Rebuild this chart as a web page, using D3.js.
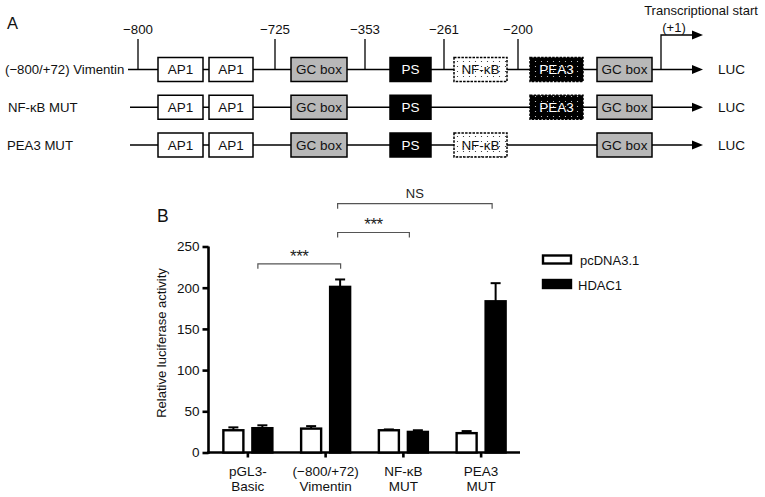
<!DOCTYPE html>
<html><head><meta charset="utf-8">
<script src="https://cdn.jsdelivr.net/npm/d3@7"></script>
<style>body{margin:0;background:#fff}svg{display:block}text{font-family:"Liberation Sans",Arial,sans-serif;fill:#111}</style>
</head><body><svg id="c" width="765" height="497"></svg>
<script>
// ---------- Panel A data (schematic) ----------
const constructs = ["(\u2212800/+72) Vimentin", "NF-\u03baB MUT", "PEA3 MUT"];
const elementNames = ["AP1", "AP1", "GC box", "PS", "NF-\u03baB", "PEA3", "GC box"];
const elementKinds = ["ap1", "ap1", "gc", "ps", "nfkb", "pea3", "gc"];
const elementStart = [30, 81, 163, 262, 326, 402, 469];
const elementEnd = [75, 125, 219, 303, 379, 455, 524];
const elementPresent = [
  [1, 1, 1, 1, 1, 1, 1],
  [1, 1, 1, 1, 0, 1, 1],
  [1, 1, 1, 1, 1, 0, 1]
];
const siteLabels = ["\u2212800", "\u2212725", "\u2212353", "\u2212261", "\u2212200"];
const sitePos = [10, 147, 237, 316, 390];
const tssPos = 533;

// ---------- Panel B data ----------
const categories = [["pGL3-", "Basic"], ["(\u2212800/+72)", "Vimentin"], ["NF-\u03baB", "MUT"], ["PEA3", "MUT"]];
const catKeys = ["pGL3", "Vim", "NFkB", "PEA3"];
const series = ["pcDNA3.1", "HDAC1"];
const pcDNA = [27, 29, 27, 23.5];
const pcDNAerr = [3.5, 3, 1, 2.5];
const hdac1 = [29.5, 201, 25, 183.5];
const hdac1err = [3.5, 9, 2, 22];
const yTicks = [0, 50, 100, 150, 200, 250];
const sigFrom = ["pGL3", "Vim", "Vim"];
const sigTo = ["Vim", "NFkB", "PEA3"];
const sigY = [229, 267, 302];
const sigText = ["***", "***", "NS"];

const svg = d3.select("#c");

// ===== Panel A =====
svg.append("text").attr("x", 7).attr("y", 28.5).attr("font-size", 16.5).text("A");
const sx = d3.scaleLinear().domain([0, 620]).range([128, 748]);
const rowY = d3.scalePoint().domain(constructs).range([69.5, 145]);
const boxH = 24;

const defs = svg.append("defs");
const p1 = defs.append("pattern").attr("id", "dotW").attr("patternUnits", "userSpaceOnUse").attr("width", 6).attr("height", 5);
p1.append("rect").attr("width", 6).attr("height", 5).attr("fill", "#fff");
p1.append("circle").attr("cx", 1.5).attr("cy", 1.5).attr("r", 0.6).attr("fill", "#222");
const p2 = defs.append("pattern").attr("id", "dotB").attr("patternUnits", "userSpaceOnUse").attr("width", 6).attr("height", 5);
p2.append("rect").attr("width", 6).attr("height", 5).attr("fill", "#000");
p2.append("circle").attr("cx", 1.5).attr("cy", 1.5).attr("r", 0.6).attr("fill", "#ddd");

const fills = {ap1: "#fff", gc: "#b8b8b8", ps: "#000", nfkb: "url(#dotW)", pea3: "url(#dotB)"};
const txtFill = {ap1: "#111", gc: "#111", ps: "#fff", nfkb: "#111", pea3: "#fff"};

function arrowHead(g, x, y) {
  g.append("path").attr("d", `M${x},${y} L${x - 11},${y - 4.5} L${x - 11},${y + 4.5} Z`).attr("fill", "#000");
}

constructs.forEach((c, ri) => {
  const y = rowY(c);
  const g = svg.append("g");
  g.append("text").attr("x", ri === 0 ? 5 : (ri === 1 ? 8 : 7)).attr("y", y).attr("dy", "0.35em")
    .attr("font-size", 13.2).text(c);
  g.append("line").attr("x1", sx(ri === 0 ? 0 : 2)).attr("x2", sx(572)).attr("y1", y).attr("y2", y)
    .attr("stroke", "#000").attr("stroke-width", 1.3);
  arrowHead(g, sx(575), y);
  g.append("text").attr("x", sx(590)).attr("y", y).attr("dy", "0.35em").attr("font-size", 13.5).text("LUC");
  elementNames.forEach((n, i) => {
    if (!elementPresent[ri][i]) return;
    const k = elementKinds[i];
    const x0 = sx(elementStart[i]), x1 = sx(elementEnd[i]);
    g.append("rect").attr("x", x0).attr("y", y - boxH / 2).attr("width", x1 - x0).attr("height", boxH)
      .attr("fill", fills[k]).attr("stroke", "#000").attr("stroke-width", 1.5)
      .attr("stroke-dasharray", (k === "nfkb" || k === "pea3") ? "2.5,1.2" : null);
    g.append("text").attr("x", (x0 + x1) / 2).attr("y", y).attr("dy", "0.36em").attr("text-anchor", "middle")
      .attr("font-size", 13.5).style("fill", txtFill[k]).text(n);
  });
  if (ri === 0) {
    sitePos.forEach((p, i) => {
      g.append("line").attr("x1", sx(p)).attr("x2", sx(p)).attr("y1", 39).attr("y2", y)
        .attr("stroke", "#000").attr("stroke-width", 1.3);
      g.append("text").attr("x", sx(p)).attr("y", 29).attr("dy", "0.35em").attr("text-anchor", "middle")
        .attr("font-size", 13.3).text(siteLabels[i]);
    });
    g.append("path").attr("d", `M${sx(tssPos)},${y} V35 H${sx(572)}`).attr("fill", "none")
      .attr("stroke", "#000").attr("stroke-width", 1.3);
    arrowHead(g, sx(575), 35);
    g.append("text").attr("x", 701).attr("y", 10).attr("dy", "0.35em").attr("text-anchor", "middle")
      .attr("font-size", 13).text("Transcriptional start");
    g.append("text").attr("x", 674).attr("y", 27).attr("dy", "0.35em").attr("text-anchor", "middle")
      .attr("font-size", 13).text("(+1)");
  }
});

// ===== Panel B =====
svg.append("text").attr("x", 157).attr("y", 222).attr("font-size", 17.5).text("B");
const y = d3.scaleLinear().domain([0, 250]).range([452.5, 246.5]);
const x = d3.scaleBand().domain(catKeys).range([209, 520]);
const xs = d3.scaleBand().domain(series).range([-29, 29]).paddingInner(0.31).paddingOuter(0.155);

const yAxis = svg.append("g").attr("transform", "translate(208.5,0)")
  .call(d3.axisLeft(y).tickValues(yTicks).tickSize(6).tickPadding(3));
yAxis.select(".domain").attr("stroke-width", 2.6).attr("d", `M0,${y(250)}V${y(0) + 1.3}`);
yAxis.selectAll(".tick line").attr("stroke-width", 2.6);
yAxis.selectAll(".tick text").attr("font-size", 13.5).style("font-family", "Liberation Sans, Arial, sans-serif").attr("fill", "#111");

const xAxis = svg.append("g").attr("transform", `translate(0,${y(0)})`)
  .call(d3.axisBottom(x).tickSize(5).tickFormat(""));
xAxis.select(".domain").attr("stroke-width", 2.6).attr("d", `M207.2,0H520`);
xAxis.selectAll(".tick line").attr("stroke-width", 2.6);
catKeys.forEach((k, i) => {
  svg.append("text").attr("x", x(k) + x.bandwidth() / 2).attr("y", 471.7).attr("dy", "0.35em")
    .attr("text-anchor", "middle").attr("font-size", 13.5).text(categories[i][0]);
  svg.append("text").attr("x", x(k) + x.bandwidth() / 2).attr("y", 486.7).attr("dy", "0.35em")
    .attr("text-anchor", "middle").attr("font-size", 13.5).text(categories[i][1]);
});

svg.append("text").attr("transform", `translate(166,343) rotate(-90)`)
  .attr("text-anchor", "middle").attr("font-size", 13).text("Relative luciferase activity");

const vals = [pcDNA, hdac1], errs = [pcDNAerr, hdac1err], colors = ["#fff", "#000"];
series.forEach((s, si) => {
  const g = svg.append("g");
  catKeys.forEach((k, i) => {
    const cx = x(k) + x.bandwidth() / 2 + xs(s) + xs.bandwidth() / 2;
    const v = vals[si][i], e = errs[si][i];
    g.append("line").attr("x1", cx).attr("x2", cx).attr("y1", y(v)).attr("y2", y(v + e))
      .attr("stroke", "#000").attr("stroke-width", 2);
    g.append("line").attr("x1", cx - 5).attr("x2", cx + 5).attr("y1", y(v + e)).attr("y2", y(v + e))
      .attr("stroke", "#000").attr("stroke-width", 2);
    g.append("rect").attr("x", cx - xs.bandwidth() / 2).attr("y", y(v)).attr("width", xs.bandwidth())
      .attr("height", y(0) - y(v)).attr("fill", colors[si]).attr("stroke", "#000").attr("stroke-width", 2.4);
  });
});

// significance brackets
const fromOff = [10, 12, 12], toOff = [15, 6, 11];
sigFrom.forEach((f, i) => {
  const x0 = x(f) + x.bandwidth() / 2 + fromOff[i];
  const x1 = x(sigTo[i]) + x.bandwidth() / 2 + toOff[i];
  const yy = y(sigY[i]);
  svg.append("path").attr("d", `M${x0},${yy + 5}V${yy}H${x1}V${yy + 5}`).attr("fill", "none")
    .attr("stroke", "#555").attr("stroke-width", 1.2);
  const isNS = sigText[i] === "NS";
  svg.append("text").attr("x", (x0 + x1) / 2).attr("y", yy - (isNS ? 10 : 12.5))
    .attr("dy", isNS ? "0.35em" : "0.6em").attr("text-anchor", "middle").attr("font-size", isNS ? 13 : 17)
    .attr("letter-spacing", isNS ? null : -0.5)
    .style("fill", "#222").text(sigText[i]);
});

// legend
series.forEach((s, i) => {
  const ly = 259.5 + i * 24.5;
  svg.append("rect").attr("x", 543).attr("y", ly - 4).attr("width", 28).attr("height", 8)
    .attr("fill", colors[i]).attr("stroke", "#000").attr("stroke-width", 2.4);
  svg.append("text").attr("x", i === 0 ? 580 : 578).attr("y", ly + 1).attr("dy", "0.35em").attr("font-size", 13).text(s);
});
</script></body></html>
